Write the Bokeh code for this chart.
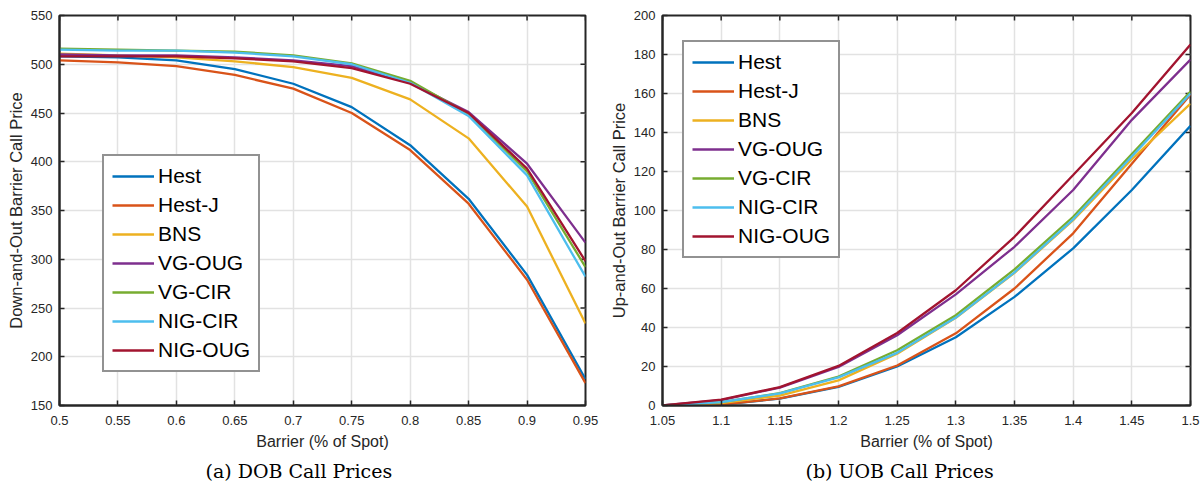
import math
from bokeh.plotting import figure
from bokeh.layouts import row
from bokeh.models import Range1d, FixedTicker, Legend, LegendItem, Title
from bokeh.embed import file_html
from bokeh.resources import INLINE

# ---------------- data ----------------
series_names = ["Hest", "Hest-J", "BNS", "VG-OUG", "VG-CIR", "NIG-CIR", "NIG-OUG"]
series_colors = ["#0072BD", "#D95319", "#EDB120", "#7E2F8E", "#77AC30", "#4DBEEE", "#A2142F"]

dob_barrier = [0.5, 0.55, 0.6, 0.65, 0.7, 0.75, 0.8, 0.85, 0.9, 0.95]
dob_hest = [508, 507, 504, 495, 480, 456, 417, 362, 284, 177]
dob_hest_j = [504, 502, 498, 489, 475, 450, 412, 357, 279, 173]
dob_bns = [511, 509, 507, 503, 497, 486, 464, 424, 354, 234]
dob_vg_oug = [510, 509, 509, 507, 504, 498, 481, 451, 398, 317]
dob_vg_cir = [516, 515, 514, 513, 509, 501, 483, 449, 390, 292]
dob_nig_cir = [515, 514, 514, 512, 508, 500, 481, 447, 386, 282]
dob_nig_oug = [508, 508, 508, 506, 503, 496, 480, 450, 393, 298]

uob_barrier = [1.05, 1.1, 1.15, 1.2, 1.25, 1.3, 1.35, 1.4, 1.45, 1.5]
uob_hest = [0, 0.5, 3.5, 9.5, 20, 35, 55.7, 80.6, 110.5, 143.4]
uob_hest_j = [0, 0.5, 3.6, 9.8, 20.5, 37, 60, 88.3, 124, 159.5]
uob_bns = [0, 1.2, 5.1, 12.9, 26.5, 45, 68, 95, 126.3, 154.8]
uob_vg_oug = [0, 2.8, 9.2, 19.8, 36, 57, 81.4, 110.5, 146.5, 177.4]
uob_vg_cir = [0, 1.7, 6.3, 14.8, 28.3, 46.3, 69.8, 96.8, 129, 161]
uob_nig_cir = [0, 1.7, 6.2, 14.4, 27, 45.1, 68.3, 95.5, 127.7, 160]
uob_nig_oug = [0, 3.0, 9.4, 20.3, 37.2, 59.1, 86.5, 118.2, 150, 185.1]

dob_xticks = [0.5, 0.55, 0.6, 0.65, 0.7, 0.75, 0.8, 0.85, 0.9, 0.95]
dob_xlabels = ["0.5", "0.55", "0.6", "0.65", "0.7", "0.75", "0.8", "0.85", "0.9", "0.95"]
dob_yticks = [150, 200, 250, 300, 350, 400, 450, 500, 550]
uob_xticks = [1.05, 1.1, 1.15, 1.2, 1.25, 1.3, 1.35, 1.4, 1.45, 1.5]
uob_xlabels = ["1.05", "1.1", "1.15", "1.2", "1.25", "1.3", "1.35", "1.4", "1.45", "1.5"]
uob_yticks = [0, 20, 40, 60, 80, 100, 120, 140, 160, 180, 200]

dob_series = [dob_hest, dob_hest_j, dob_bns, dob_vg_oug, dob_vg_cir, dob_nig_cir, dob_nig_oug]
uob_series = [uob_hest, uob_hest_j, uob_bns, uob_vg_oug, uob_vg_cir, uob_nig_cir, uob_nig_oug]

AX = "#262626"
SANS = "Liberation Sans"


def style_axis(ax, ticks, labels, label_standoff):
    ax.ticker = FixedTicker(ticks=ticks)
    ax.axis_line_color = AX
    ax.axis_line_width = 2
    ax.major_tick_line_color = AX
    ax.major_tick_line_width = 1.5
    ax.major_tick_in = 5
    ax.major_tick_out = 0
    ax.minor_tick_line_color = None
    ax.major_label_text_font = SANS
    ax.major_label_text_color = AX
    ax.major_label_text_font_size = "13px"
    ax.major_label_standoff = label_standoff
    if labels is not None:
        ax.major_label_overrides = {t: l for t, l in zip(ticks, labels)}
    ax.axis_label_text_font = SANS
    ax.axis_label_text_font_style = "normal"
    ax.axis_label_text_color = AX


def make_panel(width, xr, yr, xticks, xlabels, yticks, xs, ys_list, ylabel, caption,
               border_left, border_right, legend_loc, caption_offset):
    p = figure(width=width, height=487, output_backend="svg", toolbar_location=None,
               x_range=Range1d(*xr), y_range=Range1d(*yr),
               min_border_left=border_left, min_border_right=border_right,
               min_border_top=15, min_border_bottom=82)
    p.outline_line_color = AX
    p.outline_line_width = 2
    p.background_fill_color = "white"
    p.border_fill_color = "white"

    style_axis(p.xaxis[0], xticks, xlabels, 10)
    style_axis(p.yaxis[0], yticks, None, 7)
    p.xaxis[0].axis_label = "Barrier (% of Spot)"
    p.xaxis[0].axis_label_text_font_size = "16px"
    p.xaxis[0].axis_label_standoff = 5
    p.yaxis[0].axis_label = ylabel
    p.yaxis[0].axis_label_text_font_size = "16.5px"
    p.yaxis[0].axis_label_standoff = 3

    p.xgrid.ticker = FixedTicker(ticks=xticks)
    p.ygrid.ticker = FixedTicker(ticks=yticks)
    for g in (p.xgrid[0], p.ygrid[0]):
        g.grid_line_color = "#e2e2e2"
        g.grid_line_width = 1.5

    # inward ticks on top and right edges (half of each dash is clipped by the frame)
    p.scatter(xticks, [yr[1]] * len(xticks), marker="dash", size=10, angle=math.pi / 2,
              line_color=AX, line_width=1.5)
    p.scatter([xr[1]] * len(yticks), yticks, marker="dash", size=10,
              line_color=AX, line_width=1.5)

    items = []
    for name, color, ys in zip(series_names, series_colors, ys_list):
        r = p.line(xs, ys, line_color=color, line_width=2.3)
        items.append(LegendItem(label=name, renderers=[r]))

    leg = Legend(items=items, location=legend_loc, margin=0, padding=8, spacing=5,
                 glyph_width=42, glyph_height=20, label_height=20, label_standoff=4,
                 label_text_font=SANS, label_text_font_size="21px", label_text_color="black",
                 border_line_color=AX, border_line_width=2, background_fill_color="white",
                 background_fill_alpha=1.0)
    p.add_layout(leg, "center")

    t = Title(text=caption, align="left", offset=caption_offset,
              text_font="DejaVu Serif", text_font_size="19px",
              text_font_style="normal", text_color="black", standoff=11)
    p.add_layout(t, "below")
    return p


p1 = make_panel(604, (0.5, 0.95), (150, 550), dob_xticks, dob_xlabels, dob_yticks,
                dob_barrier, dob_series, "Down-and-Out Barrier Call Price",
                "(a)  DOB Call Prices", 59, 19, (43, 33), 146)
p2 = make_panel(596, (1.05, 1.5), (0, 200), uob_xticks, uob_xlabels, uob_yticks,
                uob_barrier, uob_series, "Up-and-Out Barrier Call Price",
                "(b)  UOB Call Prices", 58, 10, (20, 147), 143)

layout = row(p1, p2)
open("out.html", "w").write(file_html(layout, INLINE))
